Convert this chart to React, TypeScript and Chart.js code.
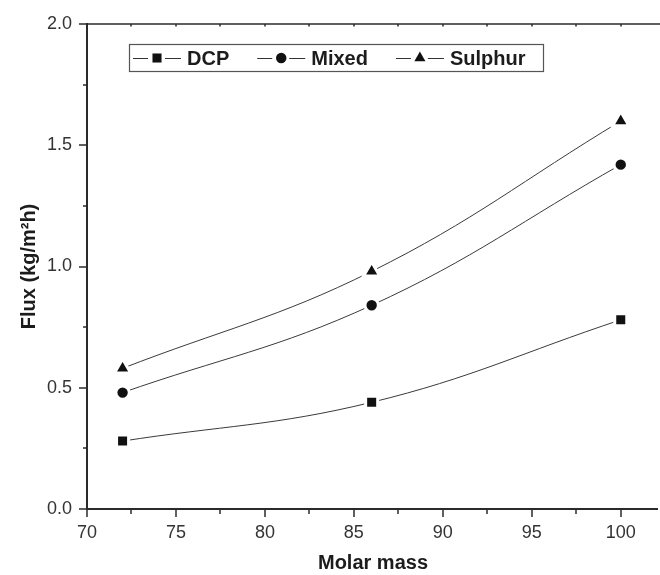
import React, { useEffect, useRef } from "react";
import { Chart, registerables } from "chart.js";

Chart.register(...registerables);

const molarMass = [72, 86, 100];
const dcpFlux = [0.28, 0.44, 0.78];
const mixedFlux = [0.48, 0.84, 1.42];
const sulphurFlux = [0.58, 0.98, 1.6];
const seriesNames = ["DCP", "Mixed", "Sulphur"];
const xTickValues = [70, 75, 80, 85, 90, 95, 100];
const yTickValues = [0, 0.5, 1.0, 1.5, 2.0];

const FONT = "'Liberation Sans', Arial, Helvetica, sans-serif";
const INK = "#1c1c1c";
const AXIS = "#2b2b2b";

const markerStyles = ["rect", "circle", "triangle"];
const markerRadius = [6.4, 5.2, 6.4];
// radius including a white halo so lines stop short of markers
const haloWidth = 3;
const haloRadius = [8.5, 6.7, 9.4];

function drawMarker(ctx, style, x, y, r) {
  ctx.beginPath();
  if (style === "rect") {
    const s = Math.SQRT1_2 * r;
    ctx.rect(x - s, y - s, 2 * s, 2 * s);
  } else if (style === "circle") {
    ctx.arc(x, y, r, 0, Math.PI * 2);
  } else {
    let rad = 0;
    ctx.moveTo(x + Math.sin(rad) * r, y - Math.cos(rad) * r);
    rad += (2 * Math.PI) / 3;
    ctx.lineTo(x + Math.sin(rad) * r, y - Math.cos(rad) * r);
    rad += (2 * Math.PI) / 3;
    ctx.lineTo(x + Math.sin(rad) * r, y - Math.cos(rad) * r);
    ctx.closePath();
  }
  ctx.fillStyle = "#111";
  ctx.fill();
}

const axesPlugin = {
  id: "originAxes",
  afterDraw(chart) {
    const { ctx, chartArea, scales } = chart;
    const x = scales.x;
    const y = scales.y;
    ctx.save();
    ctx.strokeStyle = AXIS;
    ctx.lineWidth = 2;
    const L = Math.round(chartArea.left);
    const B = Math.round(chartArea.bottom);
    const T = Math.round(chartArea.top);
    const R = chart.width;
    ctx.beginPath();
    ctx.moveTo(L, T - 1);
    ctx.lineTo(L, B + 1);
    ctx.stroke();
    ctx.beginPath();
    ctx.moveTo(L - 1, B);
    ctx.lineTo(R - 2, B);
    ctx.stroke();
    ctx.lineWidth = 1.5;
    ctx.beginPath();
    ctx.moveTo(L - 1, T);
    ctx.lineTo(R, T);
    ctx.stroke();
    ctx.lineWidth = 1.5;
    for (let i = 0; i <= 8; i++) {
      const v = i * 0.25;
      const py = Math.round(y.getPixelForValue(v));
      const len = i % 2 === 0 ? 8 : 4;
      ctx.beginPath();
      ctx.moveTo(L, py);
      ctx.lineTo(L - len, py);
      ctx.stroke();
    }
    for (let i = 0; i <= 12; i++) {
      const v = 70 + i * 2.5;
      const px = Math.round(x.getPixelForValue(v));
      const len = i % 2 === 0 ? 8 : 5;
      ctx.beginPath();
      ctx.moveTo(px, B);
      ctx.lineTo(px, B + len);
      ctx.stroke();
      ctx.beginPath();
      ctx.moveTo(px, T);
      ctx.lineTo(px, T + 2.5);
      ctx.stroke();
    }
    ctx.restore();

    ctx.save();
    const boxL = 129.5, boxT = 44.5, boxR = 543.5, boxB = 71.5;
    ctx.strokeStyle = "#555";
    ctx.lineWidth = 1.2;
    ctx.strokeRect(boxL, boxT, boxR - boxL, boxB - boxT);
    const cy = 58;
    ctx.font = `bold 20px ${FONT}`;
    ctx.textBaseline = "middle";
    ctx.textAlign = "left";
    let cx = 133;
    seriesNames.forEach((name, i) => {
      ctx.strokeStyle = "#333";
      ctx.lineWidth = 1;
      ctx.beginPath();
      ctx.moveTo(cx, cy + 0.5);
      ctx.lineTo(cx + 15, cy + 0.5);
      ctx.moveTo(cx + 32, cy + 0.5);
      ctx.lineTo(cx + 48, cy + 0.5);
      ctx.stroke();
      drawMarker(ctx, markerStyles[i], cx + 24, cy, markerRadius[i]);
      ctx.fillStyle = INK;
      ctx.fillText(name, cx + 54, cy + 1);
      const w = ctx.measureText(name).width;
      cx = cx + 54 + w + 28;
    });
    ctx.restore();
  },
};

export default function App() {
  const ref = useRef(null);
  useEffect(() => {
    const seriesValues = [dcpFlux, mixedFlux, sulphurFlux];
    const chart = new Chart(ref.current, {
      type: "line",
      data: {
        datasets: seriesValues.map((vals, i) => ({
          label: seriesNames[i],
          data: molarMass.map((m, j) => ({ x: m, y: vals[j] })),
          borderColor: "#3a3a3a",
          borderWidth: 1,
          tension: 0.4,
          pointStyle: markerStyles[i],
          pointRadius: haloRadius[i],
          pointBackgroundColor: "#111",
          pointBorderColor: "#fff",
          pointBorderWidth: haloWidth,
          fill: false,
        })),
      },
      options: {
        responsive: false,
        animation: false,
        events: [],
        layout: { autoPadding: false, padding: { top: 24, right: 1, left: 0, bottom: 0 } },
        plugins: {
          legend: { display: false },
          tooltip: { enabled: false },
        },
        scales: {
          x: {
            type: "linear",
            min: 70,
            max: 102.15,
            grid: { display: false, drawTicks: false },
            border: { display: false },
            afterBuildTicks: (s) => {
              s.ticks = xTickValues.map((v) => ({ value: v }));
            },
            afterFit: (s) => {
              s.height = 66;
              s.paddingLeft = 0;
              s.paddingRight = 0;
            },
            ticks: {
              padding: 13,
              color: "#333",
              font: { family: FONT, size: 18 },
              maxRotation: 0,
              autoSkip: false,
              callback: (v) => String(v),
            },
            title: {
              display: true,
              text: "Molar mass",
              color: INK,
              padding: { top: 0, bottom: 0 },
              font: { family: FONT, size: 20, weight: "bold" },
            },
          },
          y: {
            type: "linear",
            min: 0,
            max: 2,
            grid: { display: false, drawTicks: false },
            border: { display: false },
            afterBuildTicks: (s) => {
              s.ticks = yTickValues.map((v) => ({ value: v }));
            },
            afterFit: (s) => {
              s.width = 87;
              s.paddingTop = 0;
              s.paddingBottom = 0;
            },
            ticks: {
              padding: 15,
              color: "#333",
              font: { family: FONT, size: 18 },
              autoSkip: false,
              callback: (v) => Number(v).toFixed(1),
            },
            title: {
              display: true,
              text: "Flux (kg/m\u00B2h)",
              color: INK,
              padding: { top: 17, bottom: 0 },
              font: { family: FONT, size: 20, weight: "bold" },
            },
          },
        },
      },
      plugins: [axesPlugin],
    });
    return () => chart.destroy();
  }, []);
  return (
    <div style={{ position: "fixed", left: 0, top: 0, width: 660, height: 575, background: "#fff" }}>
      <canvas ref={ref} width={660} height={575} />
    </div>
  );
}
